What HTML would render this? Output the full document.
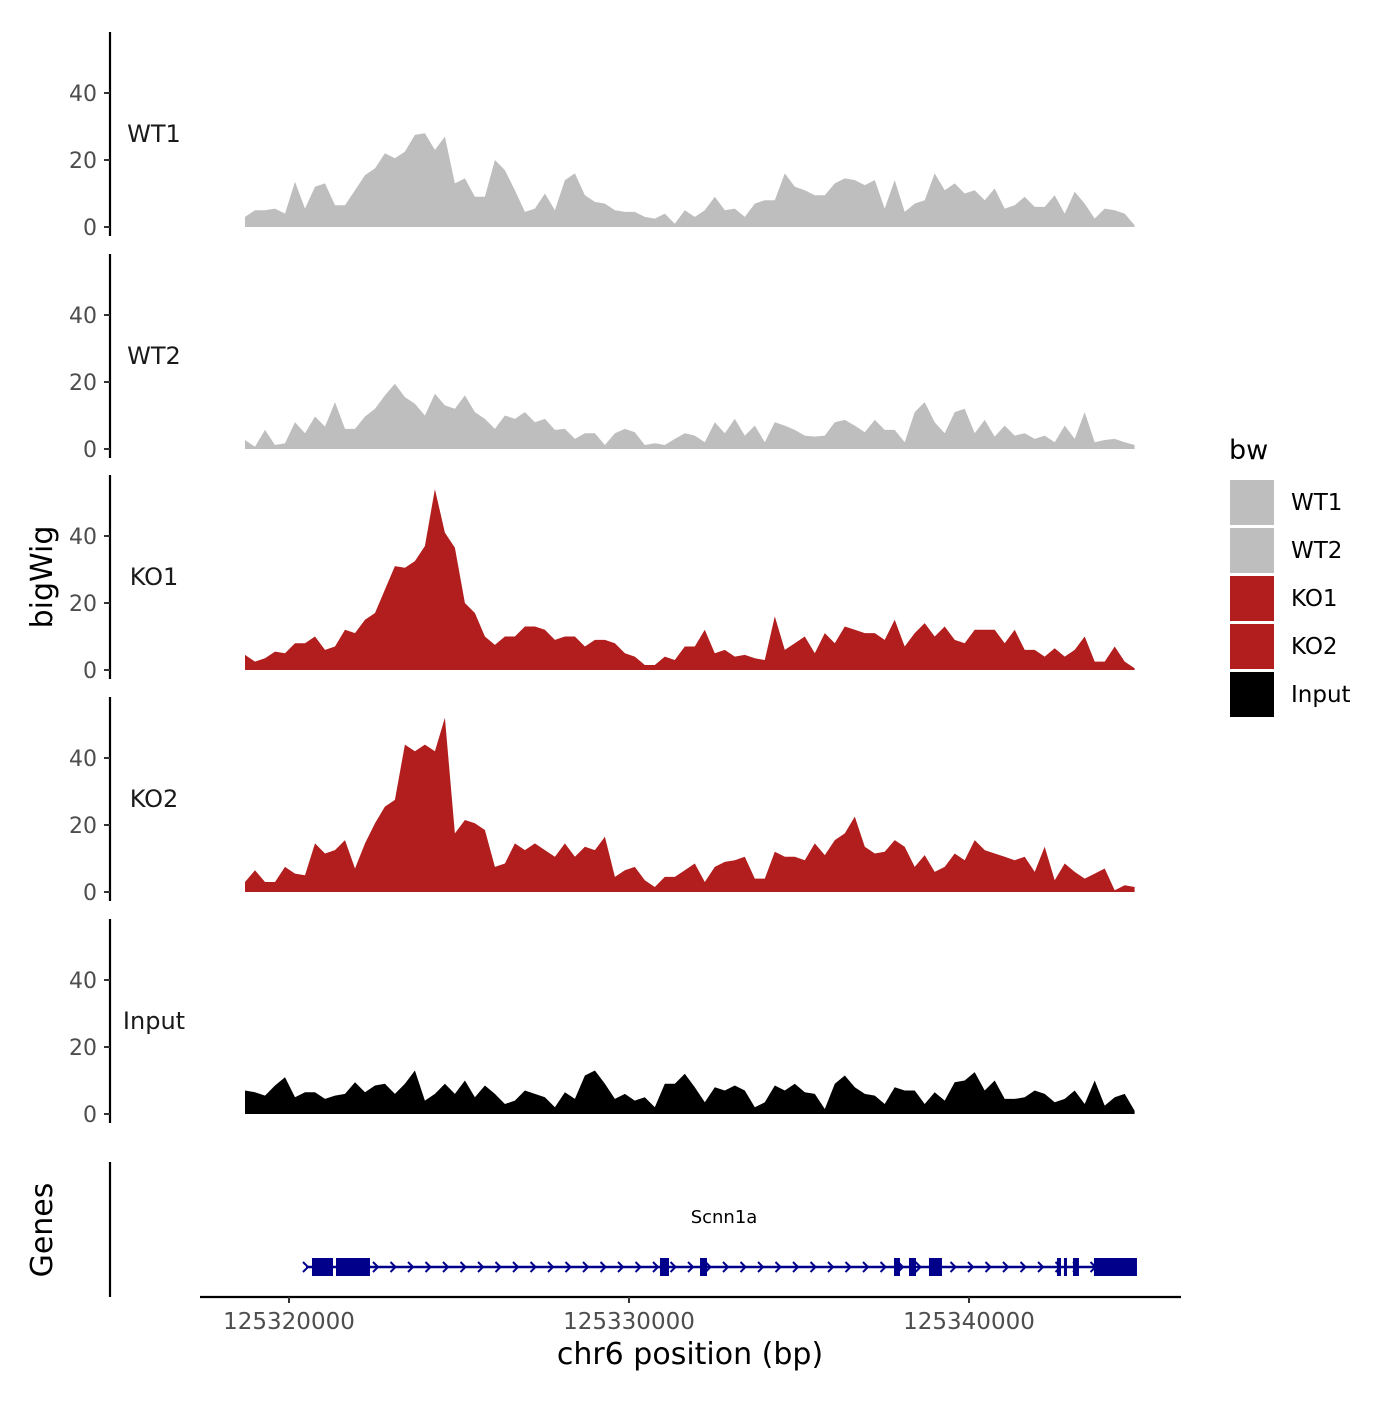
<!DOCTYPE html>
<html><head><meta charset="utf-8"><style>
html,body{margin:0;padding:0;background:#fff;}
svg text{font-family:"DejaVu Sans","Liberation Sans",sans-serif;}
</style></head><body>
<svg id="chart" width="1400" height="1400" viewBox="0 0 1400 1400" xmlns="http://www.w3.org/2000/svg">
<rect width="1400" height="1400" fill="#fff"/>
<g id="panels"></g>
<g id="genes"></g>
<g id="xaxis"></g>
<text x="52" y="577" transform="rotate(-90 52 577)" text-anchor="middle" font-size="30" fill="#000">bigWig</text>
<text x="52" y="1230" transform="rotate(-90 52 1230)" text-anchor="middle" font-size="30" fill="#000">Genes</text>
<text x="690" y="1364" text-anchor="middle" font-size="30" fill="#000">chr6 position (bp)</text>
<g id="legend"></g>
</svg>
<script>
const binStart = 125318706;
const binSize = 294;
const trackNames = ["WT1","WT2","KO1","KO2","Input"];
const trackColors = ["#bebebe","#bebebe","#b21e1e","#b21e1e","#000000"];
const wt1 = [3,5,5,5.5,4,13.5,5.5,12,13,6.5,6.5,11,15.5,17.5,22,20.5,22.5,27.5,28,23,27,13,14.5,9,9,20,17,11,4.5,5.5,10,5,14,16,9.5,7.5,7,5,4.5,4.5,3,2.5,4,1,5,3,5,9,5,5.5,3,7,8,8,16,12,11,9.5,9.5,13,14.5,14,12.5,14,5.5,14,4.5,7,8,16,11,13,10,11,8,11.5,5.5,6.5,9,6,6,9.5,4,10.5,7,2.5,5.5,5,4,0.5];
const wt2 = [2.7,0.7,5.7,1.2,1.7,8,4.7,9.7,6.7,14,6,6,9.7,12,16,19.5,15.5,13.5,10,16.5,13,12,16,11,9,6,10,9,11,8,9,5.7,6,3,4.7,4.7,1.2,4.7,6,5,1.2,1.7,1.2,3,4.7,4,2,8,4.7,9,4,7,2,8,7,5.7,4,3.7,4,8,8.7,7,5,8.7,5.7,5.7,2,11,14,8,4.7,11,12,4.7,8.7,3.7,7,4,4.7,3,4,2,7,3,11,2,2.7,3,2,1.2];
const ko1 = [4.5,2.5,3.5,5.5,5,8,8,10,6,7,12,11,15,17,24,31,30.5,32.5,37,54,41,36.5,20,17,10,7.5,10,10,13,13,12,9,10,10,7,9,9,8,5,4,1.5,1.5,4,3,7,7,12,5,6,4,4.5,3.5,3,16,6,8,10,5,11,8,13,12,11,11,9,15,7,11,14,10,13,9,8,12,12,12,8,12,6,6,4,6.5,4,6,10,2.5,2.5,7,2.5,0.5];
const ko2 = [3,6.5,3,3,7.5,5.5,5,14.5,11.5,12.5,15.5,7,14.5,20.5,25.5,27.5,44,42,44,42,52,17.5,21.5,20.5,18.5,7.5,8.5,14.5,12.5,14.5,12.5,10.5,14.5,10.5,13.5,12.5,16.5,4.5,6.5,7.5,3.5,1.5,4.5,4.5,6.5,8.5,3,7.5,9,9.5,10.5,4,4,12,10.5,10.5,9.5,14.5,11,15.5,17.5,22.5,13.5,11.5,12,15.5,13.5,7.5,11,6,7.5,11.5,9.5,15.5,12.5,11.5,10.5,9.5,10.5,6,13.5,3.5,8.5,6,4,5.5,7,0.5,2,1.5];
const inputTrack = [7,6.5,5.5,8.5,11,5,6.5,6.5,4.5,5.5,6,9.5,6.5,8.5,9,6,9,13,4,6,9,6,10,5,8.5,6,3,4,7,6,5,2,6.5,4.5,11.5,13,9,4.5,6,4,5,2,9,9,12,8,3.5,8,7,8.5,7,2,3.5,8.5,7,9,6.5,6,1.5,9,11.5,8,6,5.5,3,8,7,7,3,6.5,4,9.5,10,12.5,7,10,4.5,4.5,5,7,6,3.5,4.5,7,3,10,2.5,5,6,1];
const trackData = [wt1,wt2,ko1,ko2,inputTrack];
const yTicks = [0,20,40];
const xTicks = [125320000,125330000,125340000];
const xTickLabels = ["125320000","125330000","125340000"];
const geneName = "Scnn1a";
const geneStart = 125320500;
const geneEnd = 125344940;
const exonStarts = [125320676,125321382,125330911,125332088,125337794,125338235,125338823,125342587,125342793,125343058,125343675];
const exonEnds = [125321294,125322382,125331176,125332294,125337970,125338441,125339205,125342705,125342881,125343234,125344940];

const NS = "http://www.w3.org/2000/svg";
function mk(tag, attrs, parent){const e=document.createElementNS(NS,tag);for(const k in attrs)e.setAttribute(k,attrs[k]);parent.appendChild(e);return e;}
const xScale = bp => 289 + (bp - 125320000) * 340 / 10000;
const panelZero = [227, 449, 670, 892, 1114];
const pxPerUnit = 67/20;
const panels = document.getElementById('panels');
trackNames.forEach((name, t) => {
  const z0 = panelZero[t];
  const yS = v => z0 - v * pxPerUnit;
  const g = mk('g', {}, panels);
  
  
  const ax = mk('line', {x1:110, x2:110, y1:z0-195, y2:z0+9, stroke:'#000', 'stroke-width':2.2}, g);
  
  
  yTicks.forEach(v => {
    const tk = mk('line', {x1:104, x2:110, y1:yS(v), y2:yS(v), stroke:'#333', 'stroke-width':2}, g);
    
    
    const tl = mk('text', {x:97, y:yS(v)+8, 'text-anchor':'end', 'font-size':22, fill:'#4d4d4d'}, g);
    tl.textContent = v;
    
    
  });
  const lb = mk('text', {x:154, y:z0-85, 'text-anchor':'middle', 'font-size':24, fill:'#1a1a1a'}, g);
  lb.textContent = name;
  
  
  const vals = trackData[t];
  let d = 'M' + xScale(binStart) + ',' + z0;
  vals.forEach((v, i) => { d += ' L' + xScale(binStart + i*binSize).toFixed(1) + ',' + yS(v).toFixed(1); });
  d += ' L' + xScale(binStart + (vals.length-1)*binSize).toFixed(1) + ',' + z0 + ' Z';
  const area = mk('path', {d:d, fill:trackColors[t]}, g);
  
  
});

const gg = document.getElementById('genes');
const gax = mk('line', {x1:110, x2:110, y1:1162, y2:1297, stroke:'#000', 'stroke-width':2.2}, gg);


const gl = mk('line', {x1:xScale(geneStart), x2:xScale(geneEnd), y1:1267, y2:1267, stroke:'#00008b', 'stroke-width':2.5}, gg);


for (let x = xScale(geneStart); x < xScale(geneEnd); x += 17.5) {
  const ch = mk('path', {d:'M'+(x-3)+',1262 L'+(x+2)+',1267 L'+(x-3)+',1272', fill:'none', stroke:'#00008b', 'stroke-width':2}, gg);
  
  
}
exonStarts.forEach((s, i) => {
  const r = mk('rect', {x:xScale(s), y:1258, width:Math.max(3, xScale(exonEnds[i])-xScale(s)), height:18, fill:'#00008b'}, gg);
  
  
});
const gt = mk('text', {x:724, y:1223, 'text-anchor':'middle', 'font-size':18, fill:'#000', 'font-family':'"Liberation Mono", monospace'}, gg);
gt.textContent = geneName;



const xa = document.getElementById('xaxis');
const xl = mk('line', {x1:200, x2:1181, y1:1297, y2:1297, stroke:'#000', 'stroke-width':2.2}, xa);


xTicks.forEach((v, i) => {
  const tk = mk('line', {x1:xScale(v), x2:xScale(v), y1:1297, y2:1303, stroke:'#333', 'stroke-width':2}, xa);
  
  
  const tl = mk('text', {x:xScale(v), y:1329, 'text-anchor':'middle', 'font-size':23, fill:'#4d4d4d'}, xa);
  tl.textContent = xTickLabels[i];
  
  
});

const lg = document.getElementById('legend');
const lt = mk('text', {x:1229, y:459, 'font-size':27, fill:'#000'}, lg);
lt.textContent = 'bw';


trackNames.forEach((n, i) => {
  const y = 480 + i*48;
  const r = mk('rect', {x:1230, y:y, width:44, height:45, fill:trackColors[i]}, lg);
  
  
  const t = mk('text', {x:1291, y:y+30, 'font-size':23, fill:'#000'}, lg);
  t.textContent = n;
  
  
});
</script>
</body></html>
